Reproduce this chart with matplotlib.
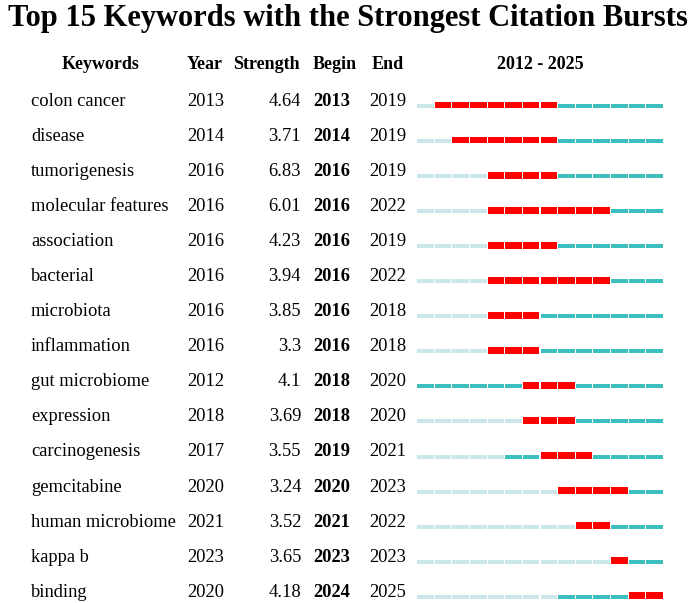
import numpy as np
import matplotlib.pyplot as plt

# Data
keywords = ["colon cancer", "disease", "tumorigenesis", "molecular features",
            "association", "bacterial", "microbiota", "inflammation",
            "gut microbiome", "expression", "carcinogenesis", "gemcitabine",
            "human microbiome", "kappa b", "binding"]
years = [2013, 2014, 2016, 2016, 2016, 2016, 2016, 2016, 2012, 2018, 2017, 2020, 2021, 2023, 2020]
strength = [4.64, 3.71, 6.83, 6.01, 4.23, 3.94, 3.85, 3.3, 4.1, 3.69, 3.55, 3.24, 3.52, 3.65, 4.18]
begin = [2013, 2014, 2016, 2016, 2016, 2016, 2016, 2016, 2018, 2018, 2019, 2020, 2021, 2023, 2024]
end = [2019, 2019, 2019, 2022, 2019, 2022, 2018, 2018, 2020, 2020, 2021, 2023, 2022, 2023, 2025]
start_year = 2012
end_year = 2025

RED = "#FF0000"
TEAL = "#3DBFBF"
LIGHT = "#CAE7EA"
FONT = "Liberation Serif"

W, H = 696, 603
fig = plt.figure(figsize=(W / 100, H / 100), dpi=100)

# text layer in pixel coordinates
ax = fig.add_axes([0, 0, 1, 1])
ax.set_xlim(0, W)
ax.set_ylim(H, 0)
ax.axis("off")

ax.text(W / 2, 26, "Top 15 Keywords with the Strongest Citation Bursts",
        ha="center", va="baseline", fontsize=22, fontweight="bold", family=FONT)

hy = 69
ax.text(101, hy, "Keywords", ha="center", va="baseline", fontsize=13, fontweight="bold", family=FONT)
ax.text(187, hy, "Year", ha="left", va="baseline", fontsize=13, fontweight="bold", family=FONT)
ax.text(233, hy, "Strength", ha="left", va="baseline", fontsize=13, fontweight="bold", family=FONT)
ax.text(313, hy, "Begin", ha="left", va="baseline", fontsize=13, fontweight="bold", family=FONT)
ax.text(372, hy, "End", ha="left", va="baseline", fontsize=13, fontweight="bold", family=FONT)
ax.text(540.5, hy, "%d - %d" % (start_year, end_year), ha="center", va="baseline",
        fontsize=13, fontweight="bold", family=FONT)

row_h = 35.05
for i in range(len(keywords)):
    by = 106 + row_h * i
    ax.text(31, by, keywords[i], ha="left", va="baseline", fontsize=13.3, family=FONT)
    ax.text(187, by, str(years[i]), ha="left", va="baseline", fontsize=13.3, family=FONT)
    ax.text(301, by, str(strength[i]), ha="right", va="baseline", fontsize=13.3, family=FONT)
    ax.text(313, by, str(begin[i]), ha="left", va="baseline", fontsize=13.3, fontweight="bold", family=FONT)
    ax.text(369, by, str(end[i]), ha="left", va="baseline", fontsize=13.3, family=FONT)

# burst bars, x in years, y in row index
bx = fig.add_axes([417 / W, 0, 247 / W, 1])
bx.set_xlim(start_year, end_year + 1)
bx.set_ylim((H - 105) / row_h, -105 / row_h)
bx.axis("off")

px = 1 / row_h
all_years = np.arange(start_year, end_year + 1)
for i in range(len(keywords)):
    for yr in all_years:
        if begin[i] <= yr <= end[i]:
            bx.bar(yr, 6.8 * px, bottom=i - 3.4 * px, width=0.94, align="edge", color=RED)
        elif yr < years[i]:
            bx.bar(yr, 4.0 * px, bottom=i - 1.0 * px, width=0.94, align="edge", color=LIGHT)
        else:
            bx.bar(yr, 4.0 * px, bottom=i - 1.0 * px, width=0.94, align="edge", color=TEAL)

plt.savefig("out.png", dpi=100)
